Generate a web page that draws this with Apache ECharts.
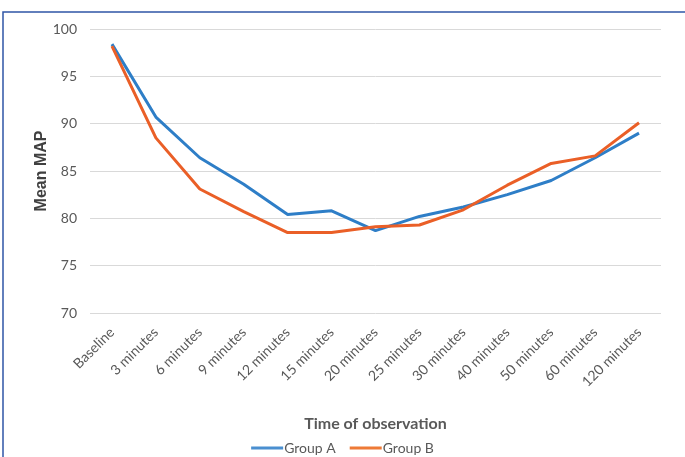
<!DOCTYPE html>
<html>
<head>
<meta charset="utf-8">
<script src="https://cdn.jsdelivr.net/npm/echarts@6/dist/echarts.min.js"></script>
<style>
html,body{margin:0;padding:0;background:#fff;}
#chart{width:685px;height:457px;}
</style>
</head>
<body>
<div id="chart"></div>
<script>
const categories = ["Baseline","3 minutes","6 minutes","9 minutes","12 minutes","15 minutes","20 minutes","25 minutes","30 minutes","40 minutes","50 minutes","60 minutes","120 minutes"];
const groupA = [98.4, 90.7, 86.4, 83.6, 80.4, 80.8, 78.7, 80.2, 81.2, 82.5, 84.0, 86.4, 89.0];
const groupB = [98.2, 88.5, 83.1, 80.7, 78.5, 78.5, 79.1, 79.3, 80.9, 83.5, 85.8, 86.6, 90.1];
const yTicks = [70, 75, 80, 85, 90, 95, 100];

const font = "Lato, 'DejaVu Sans Condensed', sans-serif";
const chart = echarts.init(document.getElementById('chart'));
chart.setOption({
  animation: false,
  backgroundColor: '#ffffff',
  graphic: [{
    type: 'rect',
    shape: {x: 3, y: 12, width: 720, height: 500},
    style: {fill: 'none', stroke: '#2F56A6', lineWidth: 1.5},
    silent: true
  }],
  grid: {left: 90, right: 24, top: 29, bottom: 144},
  legend: {
    top: 436,
    left: 'center',
    itemWidth: 32,
    itemHeight: 3,
    itemGap: 14,
    icon: 'rect',
    textStyle: {fontFamily: font, fontSize: 14, color: '#595959', padding: [0,0,0,-4]},
    data: ['Group A', 'Group B']
  },
  xAxis: {
    type: 'category',
    data: categories,
    boundaryGap: true,
    name: 'Time of observation',
    nameLocation: 'middle',
    nameGap: 103,
    nameMoveOverlap: false,
    nameTextStyle: {fontFamily: font, fontSize: 16, fontWeight: 'bold', color: '#595959'},
    axisLine: {show: false},
    axisTick: {show: false},
    axisLabel: {rotate: 45, interval: 0, margin: 17, fontFamily: font, fontSize: 14, color: '#595959'}
  },
  yAxis: {
    type: 'value',
    min: yTicks[0],
    max: yTicks[yTicks.length - 1],
    interval: 5,
    name: 'Mean MAP',
    nameLocation: 'middle',
    nameGap: 40,
    nameMoveOverlap: false,
    nameTextStyle: {fontFamily: "'Liberation Sans', Arial, sans-serif", fontSize: 16, fontWeight: 'bold', color: '#404040'},
    axisLine: {show: false},
    axisTick: {show: false},
    splitLine: {lineStyle: {color: '#d9d9d9', width: 1}},
    axisLabel: {margin: 13, fontFamily: font, fontSize: 14, color: '#595959'}
  },
  series: [
    {name: 'Group A', type: 'line', data: groupA, symbol: 'none', lineStyle: {width: 3, color: '#2E7EC7'}, itemStyle: {color: '#4A8FD0'}},
    {name: 'Group B', type: 'line', data: groupB, symbol: 'none', lineStyle: {width: 3, color: '#EA5F27'}, itemStyle: {color: '#EE7A36'}}
  ]
});
</script>
</body>
</html>
